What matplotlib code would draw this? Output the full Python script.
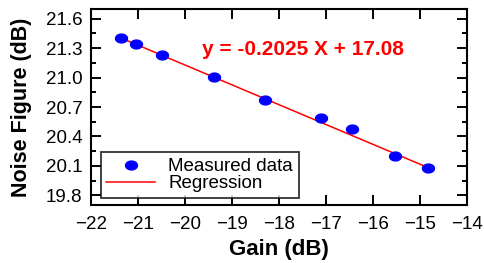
import numpy as np
import matplotlib
matplotlib.use("Agg")
import matplotlib.pyplot as plt
from matplotlib.path import Path
from matplotlib.ticker import MultipleLocator

plt.rcParams['font.family'] = ['Liberation Sans', 'DejaVu Sans']

# measured points
gain = [-21.36, -21.03, -20.48, -19.38, -18.30, -17.11, -16.44, -15.52, -14.83]
noise_fig = [21.40, 21.343, 21.228, 21.006, 20.776, 20.587, 20.475, 20.205, 20.077]

# regression line ends
reg_gain = [-21.36, -14.83]
reg_nf = [21.405, 20.083]
reg_text = "y = -0.2025 X + 17.08"

# elliptic marker (wider than tall)
t = np.linspace(0, 2 * np.pi, 60)
ell = Path(np.column_stack([np.cos(t), 0.74 * np.sin(t)]), closed=True)

fig = plt.figure(figsize=(4.84, 2.63), dpi=100)
ax = fig.add_axes([0.1874, 0.2205, 0.7769, 0.7453])

ax.plot(gain, noise_fig, linestyle='none', marker=ell, markersize=8.6,
        color='#0000ff', label='Measured data', zorder=3)
ax.plot(reg_gain, reg_nf, color='#ff0000', lw=1.1, label='Regression', zorder=2)

ax.text(-19.63, 21.29, reg_text, color='#ff0000', fontsize=15,
        fontweight='bold', va='center', ha='left')

ax.set_xlim(-22, -14)
ax.set_ylim(19.7, 21.7)
ax.xaxis.set_major_locator(MultipleLocator(1))
ax.yaxis.set_minor_locator(MultipleLocator(0.15))
ax.set_yticks([19.8, 20.1, 20.4, 20.7, 21.0, 21.3, 21.6])
ax.set_yticklabels(['19.8', '20.1', '20.4', '20.7', '21.0', '21.3', '21.6'])

ax.tick_params(axis='both', which='major', direction='in', length=7, width=1.4,
               labelsize=13.5, top=True, right=True)
ax.tick_params(axis='x', which='major', pad=8)
ax.tick_params(axis='y', which='major', pad=6)
ax.tick_params(axis='y', which='minor', direction='in', length=3.5, width=1.4,
               right=True)
for s in ax.spines.values():
    s.set_linewidth(1.5)

ax.set_xlabel('Gain (dB)', fontsize=16, fontweight='bold', labelpad=4)
ax.set_ylabel('Noise Figure (dB)', fontsize=15.5, fontweight='bold', labelpad=10)

leg = ax.legend(loc='lower left', bbox_to_anchor=(0.027, 0.036), fontsize=13.5,
                frameon=True, fancybox=False, edgecolor='black',
                borderpad=0.3, labelspacing=0.0, handlelength=2.6,
                handletextpad=0.7, borderaxespad=0)
leg.get_frame().set_linewidth(1.3)

fig.savefig('out.png', dpi=100)
